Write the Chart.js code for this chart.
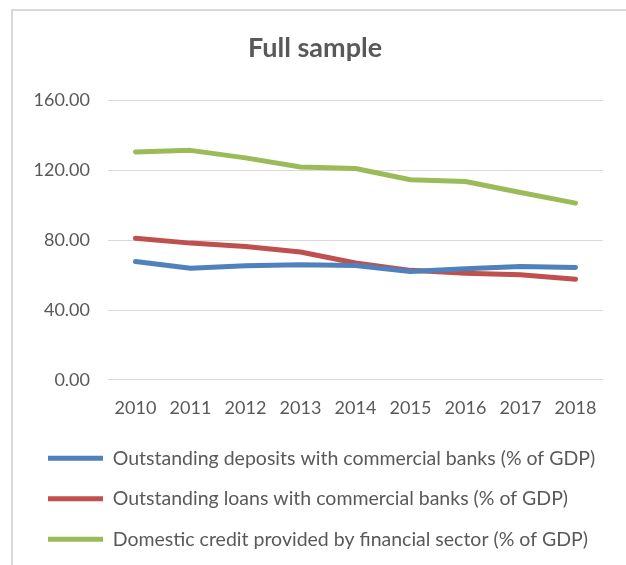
<!DOCTYPE html>
<html>
<head>
<meta charset="utf-8">
<script src="https://cdn.jsdelivr.net/npm/chart.js@4.4.1/dist/chart.umd.min.js"></script>
<style>
    html, body { margin: 0; padding: 0; background: #ffffff; overflow: hidden; }
    #frame {
        position: absolute; left: 11px; top: 9px; width: 700px; height: 700px;
        border-left: 2px solid #d9d9d9; border-top: 2px solid #d9d9d9;
    }
    #wrap { position: absolute; left: 0; top: 0; width: 626px; height: 565px; }
</style>
</head>
<body>
<div id="frame"></div>
<div id="wrap"><canvas id="chart" width="626" height="565"></canvas></div>
<script>
    // Financial depth, full sample, 2010-2018 (% of GDP)
    const years = ["2010", "2011", "2012", "2013", "2014", "2015", "2016", "2017", "2018"];
    const deposits = [67.8, 63.9, 65.3, 65.9, 65.5, 62.0, 63.6, 64.9, 64.3];
    const loans = [81.1, 78.3, 76.4, 73.2, 66.9, 62.7, 61.1, 60.2, 57.6];
    const credit = [130.5, 131.4, 127.1, 121.9, 121.0, 114.6, 113.6, 107.3, 101.2];
    const yTicks = [0, 40, 80, 120, 160];

    const FONT = "Lato, 'Noto Sans', sans-serif";
    const TEXT = "#595959";

    function line(label, data, color) {
        return {
            label: label,
            data: data,
            borderColor: color,
            backgroundColor: color,
            borderWidth: 5,
            borderCapStyle: "round",
            borderJoinStyle: "round",
            pointRadius: 0,
            tension: 0,
            fill: false,
        };
    }

    new Chart(document.getElementById("chart").getContext("2d"), {
        type: "line",
        data: {
            labels: years,
            datasets: [
                line("Outstanding deposits with commercial banks (% of GDP)", deposits, "#4f81bd"),
                line("Outstanding loans with commercial banks (% of GDP)", loans, "#c0504d"),
                line("Domestic credit provided by financial sector (% of GDP)", credit, "#9bbb59"),
            ],
        },
        options: {
            responsive: false,
            animation: false,
            layout: { padding: { left: 27, right: 23, top: 0, bottom: 6 } },
            scales: {
                x: {
                    offset: true,
                    grid: { display: false },
                    border: { display: false },
                    ticks: { color: TEXT, font: { family: FONT, size: 18 }, padding: 9, maxRotation: 0 },
                },
                y: {
                    min: 0,
                    max: 160,
                    afterBuildTicks: (axis) => {
                        axis.ticks = yTicks.map((v) => ({ value: v }));
                    },
                    afterFit: (axis) => {
                        axis.width = 81;
                    },
                    grid: { color: "#d9d9d9", lineWidth: 1, drawTicks: false },
                    border: { display: false },
                    ticks: {
                        color: TEXT,
                        padding: 18,
                        font: { family: FONT, size: 18 },
                        callback: (v) => Number(v).toFixed(2),
                    },
                },
            },
            plugins: {
                title: {
                    display: true,
                    text: "Full sample",
                    color: TEXT,
                    font: { family: FONT, size: 27, weight: "bold" },
                    padding: { top: 32, bottom: 36 },
                },
                legend: {
                    position: "bottom",
                    align: "start",
                    labels: {
                        color: TEXT,
                        font: { family: FONT, size: 19.5 },
                        boxWidth: 55,
                        boxHeight: 5,
                        padding: 21,
                        generateLabels: (chart) =>
                            chart.data.datasets.map((ds, i) => ({
                                text: ds.label,
                                fillStyle: ds.borderColor,
                                strokeStyle: ds.borderColor,
                                lineWidth: 0,
                                fontColor: TEXT,
                                datasetIndex: i,
                                hidden: false,
                            })),
                    },
                },
                tooltip: { enabled: false },
            },
        },
    });
</script>
</body>
</html>
